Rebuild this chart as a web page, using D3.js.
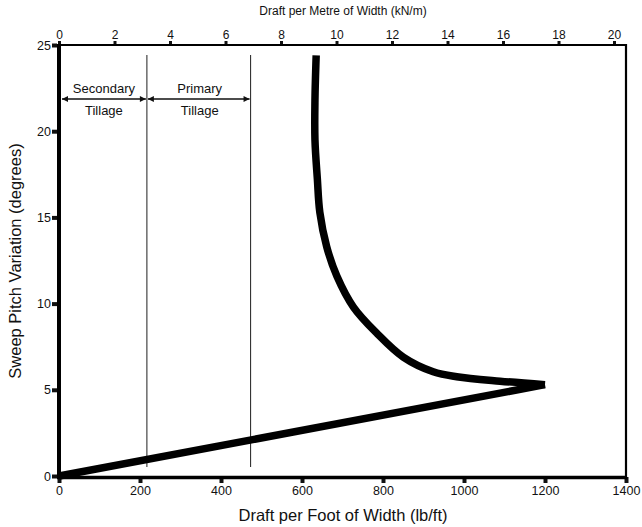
<!DOCTYPE html>
<html>
<head>
<meta charset="utf-8">
<script src="https://cdn.jsdelivr.net/npm/d3@7"></script>
<style>
  body { margin: 0; background: #fff; }
  text { font-family: "Liberation Sans", Arial, sans-serif; fill: #111; }
</style>
</head>
<body>
<svg id="chart" width="642" height="527"></svg>
<script>
// draft (lb/ft) vs sweep pitch variation (degrees)
var upperDraft = [635, 632, 632, 638, 644, 661, 686, 727, 784, 850, 924, 982, 1089, 1200];
var upperPitch = [24.4, 21.8, 19.5, 17.2, 15.3, 13.3, 11.6, 9.8, 8.3, 6.9, 6.05, 5.76, 5.5, 5.3];
var lowerDraft = [1200, 0];
var lowerPitch = [5.3, 0];

// tillage zone boundaries (lb/ft)
var zoneEdges = [217, 473];
var zoneNames = [["Secondary", "Tillage"], ["Primary", "Tillage"]];

var bottomTicks = [0, 200, 400, 600, 800, 1000, 1200, 1400];
var topTicks = [0, 2, 4, 6, 8, 10, 12, 14, 16, 18, 20];
var leftTicks = [0, 5, 10, 15, 20, 25];
var LB_PER_KN = 68.52; // 1 kN/m = 68.52 lb/ft

var svg = d3.select('#chart');

var x = d3.scaleLinear().domain([0, 1400]).range([59, 626]);
var y = d3.scaleLinear().domain([0, 25]).range([476, 45]);

// bottom axis
var bottomAxis = svg.append('g')
    .attr('transform', 'translate(0,477)')
    .call(d3.axisBottom(x).tickValues(bottomTicks).tickFormat(d3.format('d'))
        .tickSize(6).tickPadding(3));
bottomAxis.select('.domain').remove();
bottomAxis.selectAll('.tick line').attr('stroke', '#111').attr('stroke-width', 4);
bottomAxis.selectAll('.tick text').attr('font-size', 12.5).attr('fill', '#111');

// top axis in kN/m
var topAxis = svg.append('g')
    .attr('transform', 'translate(0,45)')
    .call(d3.axisTop(x).tickValues(topTicks.map(d => d * LB_PER_KN))
        .tickFormat((d, i) => topTicks[i]).tickSize(4).tickPadding(2));
topAxis.select('.domain').remove();
topAxis.selectAll('.tick line').attr('stroke', '#111').attr('stroke-width', 3);
topAxis.selectAll('.tick text').attr('font-size', 12).attr('fill', '#111');

// left axis
var leftAxis = svg.append('g')
    .attr('transform', 'translate(57,0)')
    .call(d3.axisLeft(y).tickValues(leftTicks).tickSize(5).tickPadding(1));
leftAxis.select('.domain').remove();
leftAxis.selectAll('.tick line').attr('stroke', '#111').attr('stroke-width', 4);
leftAxis.selectAll('.tick text').attr('font-size', 12.5).attr('fill', '#111');

// frame
svg.append('line').attr('x1', 59).attr('x2', 59).attr('y1', 44).attr('y2', 479)
    .attr('stroke', '#000').attr('stroke-width', 4);
svg.append('line').attr('x1', 57).attr('x2', 627).attr('y1', 477.5).attr('y2', 477.5)
    .attr('stroke', '#000').attr('stroke-width', 3.5);
svg.append('line').attr('x1', 57).attr('x2', 627).attr('y1', 45).attr('y2', 45)
    .attr('stroke', '#000').attr('stroke-width', 2.2);
svg.append('line').attr('x1', 626).attr('x2', 626).attr('y1', 44).attr('y2', 479)
    .attr('stroke', '#000').attr('stroke-width', 2.2);

// zone boundaries
svg.selectAll('.zone')
    .data(zoneEdges)
    .enter()
    .append('line')
    .classed('zone', true)
    .attr('x1', d => x(d)).attr('x2', d => x(d))
    .attr('y1', 55).attr('y2', 467)
    .attr('stroke', '#333').attr('stroke-width', 1.1);

// arrows
var defs = svg.append('defs');
defs.append('marker')
    .attr('id', 'arr')
    .attr('viewBox', '0 0 10 10')
    .attr('refX', 10).attr('refY', 5)
    .attr('markerWidth', 8).attr('markerHeight', 6)
    .attr('markerUnits', 'userSpaceOnUse')
    .attr('orient', 'auto-start-reverse')
    .append('path')
    .attr('d', 'M0,0 L10,5 L0,10 Z')
    .attr('fill', '#111');

var spans = [[0, zoneEdges[0]], [zoneEdges[0], zoneEdges[1]]];
spans.forEach((s, i) => {
    var x0 = x(s[0]) + 3, x1 = x(s[1]) - 1;
    if (i == 1) x0 = x(s[0]) + 1;
    svg.append('line')
        .attr('x1', x0).attr('x2', x1).attr('y1', 99).attr('y2', 99)
        .attr('stroke', '#111').attr('stroke-width', 1.3)
        .attr('marker-start', 'url(#arr)')
        .attr('marker-end', 'url(#arr)');
    var cx = (x(s[0]) + x(s[1])) / 2 + 1;
    svg.append('text').attr('x', cx).attr('y', 93).attr('text-anchor', 'middle')
        .attr('font-size', 13).text(zoneNames[i][0]);
    svg.append('text').attr('x', cx).attr('y', 115).attr('text-anchor', 'middle')
        .attr('font-size', 13).text(zoneNames[i][1]);
});

// curve
var line = d3.line()
    .x(d => x(d[0]))
    .y(d => y(d[1]))
    .curve(d3.curveCatmullRom.alpha(0.5));

svg.append('path')
    .datum(d3.zip(upperDraft, upperPitch))
    .attr('d', line)
    .attr('fill', 'none')
    .attr('stroke', '#000')
    .attr('stroke-width', 7.5);

svg.append('path')
    .datum(d3.zip(lowerDraft, lowerPitch))
    .attr('d', line.curve(d3.curveLinear))
    .attr('fill', 'none')
    .attr('stroke', '#000')
    .attr('stroke-width', 7.5);

// titles
svg.append('text')
    .attr('x', 343).attr('y', 15)
    .attr('text-anchor', 'middle')
    .attr('font-size', 12)
    .text('Draft per Metre of Width (kN/m)');

svg.append('text')
    .attr('x', 343).attr('y', 521)
    .attr('text-anchor', 'middle')
    .attr('font-size', 16.5)
    .text('Draft per Foot of Width (lb/ft)');

svg.append('text')
    .attr('transform', 'translate(21,261) rotate(-90)')
    .attr('text-anchor', 'middle')
    .attr('font-size', 16.5)
    .text('Sweep Pitch Variation (degrees)');
</script>
</body>
</html>
